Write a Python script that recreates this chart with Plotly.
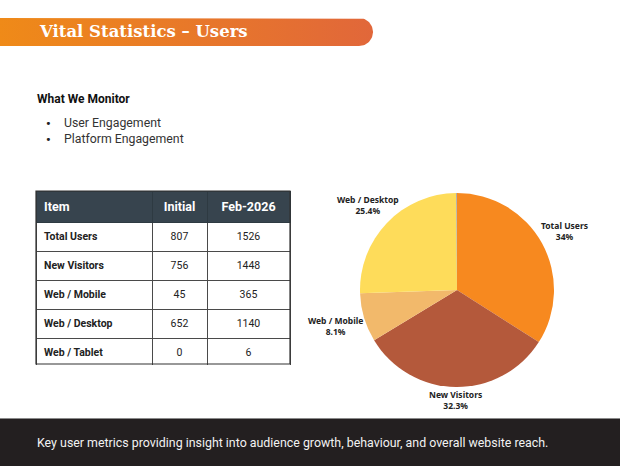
import numpy as np
import plotly.graph_objects as go

W, H = 620, 466

# ---------------- data ----------------
items = ["Total Users", "New Visitors", "Web / Mobile", "Web / Desktop", "Web / Tablet"]
initial = [807, 756, 45, 652, 0]
feb2026 = [1526, 1448, 365, 1140, 6]
col_headers = ["Item", "Initial", "Feb-2026"]
monitor_items = ["User Engagement", "Platform Engagement"]
title_text = "Vital Statistics \u2013 Users"
section_title = "What We Monitor"
footer_text = "Key user metrics providing insight into audience growth, behaviour, and overall website reach."
slice_colors = ["#F7891F", "#B4593B", "#F2B96B", "#FEDC5A", "#9E9E9E"]
show_label = [True, True, True, True, False]

fig = go.Figure()

# ---------------- header bar (gradient, rounded right end) ----------------
bar_x0, bar_x1, bar_y0, bar_y1 = 0, 373, 18, 46
rad = (bar_y1 - bar_y0) / 2
cx = bar_x1 - rad
cy = (bar_y0 + bar_y1) / 2
ang = np.linspace(-np.pi / 2, np.pi / 2, 40)
xs = [bar_x0] + list(cx + rad * np.cos(ang)) + [bar_x0, bar_x0]
ys = [bar_y0] + list(cy + rad * np.sin(ang)) + [bar_y1, bar_y0]
fig.add_trace(go.Scatter(
    x=xs, y=ys, mode="lines", fill="toself", line=dict(width=0, color="rgba(0,0,0,0)"),
    fillgradient=dict(type="horizontal", colorscale=[[0, "#EF8A18"], [1, "#E1673A"]]),
    hoverinfo="skip", showlegend=False,
))

# ---------------- table ----------------
tx0, tx1, ty0 = 36, 290, 191
head_h, row_h = 30, 28.6
ty1 = ty0 + head_h + row_h * len(items)
fig.add_trace(go.Table(
    domain=dict(x=[tx0 / W, tx1 / W], y=[1 - (ty1 + 1) / H, 1 - ty0 / H]),
    columnwidth=[116, 55, 83],
    header=dict(
        values=[f"<b>{h}</b>" for h in col_headers],
        fill_color="#37444E",
        line=dict(color="#2E3A42", width=1),
        font=dict(family="Roboto", size=12.5, color="white"),
        align=["left", "center", "center"],
        height=head_h,
    ),
    cells=dict(
        values=[[f"<b>{i}</b>" for i in items],
                [f"<span>{v}</span>" for v in initial],
                [f"<span>{v}</span>" for v in feb2026]],
        fill_color="white",
        line=dict(color="#4A4A4A", width=1),
        font=dict(family="Roboto", size=10.5, color="#222222"),
        align=["left", "center", "center"],
        height=row_h,
    ),
))

# ---------------- pie ----------------
pcx, pcy, pr = 457, 290, 97
total = sum(feb2026)
fig.add_trace(go.Pie(
    labels=items, values=feb2026, sort=False, direction="clockwise", rotation=0,
    marker=dict(colors=slice_colors, line=dict(width=0)),
    domain=dict(x=[(pcx - pr) / W, (pcx + pr) / W], y=[1 - (pcy + pr) / H, 1 - (pcy - pr) / H]),
    textinfo="none", showlegend=False, hoverinfo="skip",
))

# outside labels, placed from the slice mid-angles (computed from the values)
annotations = []
cum = np.cumsum([0] + feb2026)
for i, lab in enumerate(items):
    if not show_label[i]:
        continue
    frac = feb2026[i] / total
    pct = f"{round(frac * 100, 1):g}%"
    mid = (cum[i] + cum[i + 1]) / 2 / total * 2 * np.pi
    ux, uy = np.sin(mid), -np.cos(mid)  # screen direction (y down)
    w_est, h_est = 4.6 * len(lab), 20
    d = pr + 3 + np.hypot(ux * w_est / 2, uy * h_est / 2)
    annotations.append(dict(
        text=f"<b>{lab}</b><br><b>{pct}</b>", x=pcx + ux * d, y=pcy + uy * d,
        xref="x", yref="y", xanchor="center", yanchor="middle", showarrow=False, align="center",
        font=dict(family="Noto Sans", size=8.5, color="#222222"),
    ))

shapes = [
    # footer band
    dict(type="rect", xref="x", yref="y", x0=0, x1=W, y0=419, y1=H,
         fillcolor="#231F20", line=dict(width=0), layer="below"),
    dict(type="line", xref="x", yref="y", x0=0, x1=W, y0=418.5, y1=418.5,
         line=dict(color="#8A8A8A", width=1)),
    # table outer border
    dict(type="rect", xref="x", yref="y", x0=tx0, x1=tx1, y0=ty0, y1=ty1,
         line=dict(color="#333333", width=1.2), fillcolor="rgba(0,0,0,0)"),
]

annotations += [
    dict(text=f"<b>{title_text}</b>", x=37, y=31, xref="x", yref="y", xanchor="left", yanchor="middle",
         showarrow=False, font=dict(family="DejaVu Serif", size=16.5, color="white")),
    dict(text=f"<b>{section_title}</b>", x=35, y=99, xref="x", yref="y", xanchor="left", yanchor="middle",
         showarrow=False, font=dict(family="Roboto", size=12, color="#111111")),
    dict(text=footer_text, x=35, y=442, xref="x", yref="y", xanchor="left", yanchor="middle",
         showarrow=False, font=dict(family="Roboto", size=12.4, color="#F2F2F2")),
]
for k, m in enumerate(monitor_items):
    yy = 123 + 16 * k
    annotations.append(dict(text="<b>\u2022</b>", x=43.5, y=yy, xref="x", yref="y", xanchor="left",
                            yanchor="middle", showarrow=False,
                            font=dict(family="Roboto", size=13, color="#222222")))
    annotations.append(dict(text=m, x=62, y=yy, xref="x", yref="y", xanchor="left", yanchor="middle",
                            showarrow=False, font=dict(family="Roboto", size=12.3, color="#333333")))

fig.update_layout(
    width=W, height=H, margin=dict(l=0, r=0, t=0, b=0),
    paper_bgcolor="white", plot_bgcolor="white",
    xaxis=dict(range=[0, W], domain=[0, 1], visible=False, fixedrange=True),
    yaxis=dict(range=[H, 0], domain=[0, 1], visible=False, fixedrange=True),
    shapes=shapes, annotations=annotations,
)

fig.write_html("out.html")
